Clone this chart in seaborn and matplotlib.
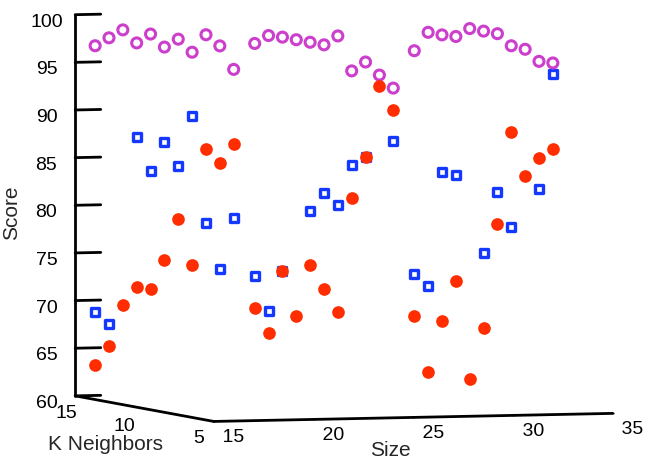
import numpy as np
import pandas as pd
import matplotlib
matplotlib.use("Agg")
import matplotlib.pyplot as plt
from matplotlib.ticker import FuncFormatter
import seaborn as sns

# K values swept inside each group, and the three sizes
k_values = [15, 14, 13, 12, 11, 10, 9, 8, 7, 6, 5]
sizes = [16, 24, 32]

# magenta open circles (one list per size, K from 15 down to 5)
score_circles = [
    [96.7, 97.8, 98.9, 97.8, 99.0, 97.9, 99.0, 97.9, 100.0, 99.1, 96.9],
    [96.6, 97.7, 97.8, 97.8, 97.8, 97.8, 99.0, 95.6, 96.8, 95.7, 94.6],
    [95.5, 97.7, 97.7, 97.8, 98.9, 98.9, 98.9, 97.9, 97.8, 96.8, 96.9],
]
# blue open squares (nan = hidden behind a red dot)
score_squares = [
    [68.8, 67.8, np.nan, 87.9, 84.6, 87.9, 85.7, 91.2, 80.2, 75.7, 81.3],
    [72.2, 68.8, 73.3, np.nan, 80.1, 82.3, 81.3, 85.7, 86.8, np.nan, 89.0],
    [72.1, 71.1, 83.3, 83.3, np.nan, 75.6, 82.3, 78.9, np.nan, 83.4, 95.7],
]
# red filled dots
score_dots = [
    [63.2, 65.5, 70.0, 72.2, 72.2, 75.6, 80.1, 75.6, 88.0, 86.8, 89.1],
    [68.8, 66.5, 73.3, 68.8, 74.4, 72.2, 70.0, 82.3, 86.8, 94.6, 92.3],
    [67.7, 62.1, 67.7, 72.1, 62.1, 67.7, 78.9, 88.9, 84.5, 86.7, 87.9],
]


def a_tabla(scores, nombre):
    filas = []
    for size, lista in zip(sizes, scores):
        for k, s in zip(k_values, lista):
            filas.append({"serie": nombre, "Size": size, "K": k, "Score": s})
    return pd.DataFrame(filas)


df = pd.concat([
    a_tabla(score_squares, "squares"),
    a_tabla(score_circles, "circles"),
    a_tabla(score_dots, "dots"),
]).dropna()

sns.set_theme(style="white")
plt.rcParams["font.family"] = ["Liberation Sans", "DejaVu Sans"]

fig = plt.figure(figsize=(6.45, 4.62), dpi=100)
# big axes so the 3D box is not clipped (the 3D box is fit into a square)
lado = 1.511
ax = fig.add_axes([0.5186 - lado / 2, 0.5163 - lado / 2, lado, lado],
                  projection="3d", proj_type="ortho", computed_zorder=False)
ax.view_init(elev=3.5, azim=-108.3)
ax.set_box_aspect((419, 440, 380.8))

estilos = {
    "squares": dict(marker="s", s=33, facecolors="none", edgecolors="#1438FF", linewidths=2.4),
    "circles": dict(marker="o", s=52, facecolors="none", edgecolors="#CC3FCC", linewidths=2.2),
    "dots": dict(marker="o", s=83, c="#FF2D00", linewidths=0),
}
for nombre, grupo in df.groupby("serie", sort=False):
    ax.scatter(grupo["Size"], grupo["K"], grupo["Score"], depthshade=False, **estilos[nombre])

ax.set_xlim(15, 35, view_margin=0)
ax.set_ylim(5, 15, view_margin=0)
ax.set_zlim(60, 100, view_margin=0)
ax.set_xticks([15, 20, 25, 30, 35])
ax.set_yticks([5, 10, 15])
ax.set_zticks(np.arange(60, 101, 5))
# size labels sit a little to the right of their ticks
ax.xaxis.set_major_formatter(FuncFormatter(lambda v, p: "\u2004" + f"{v:g}"))

ax.grid(False)
for eje in (ax.xaxis, ax.yaxis, ax.zaxis):
    eje.set_pane_color((1, 1, 1, 0))
    eje.pane.set_edgecolor((1, 1, 1, 0))
    eje.line.set_color("black")
    eje.line.set_linewidth(2)
ax.tick_params(labelsize=14, colors="black")
ax.tick_params(axis="x", pad=-3, bottom=True)
ax.tick_params(axis="y", pad=-2)
ax.tick_params(axis="z", pad=6, bottom=True, left=True)
ax.zaxis._axinfo["tick"].update(inward_factor=0.0, outward_factor=0.8, linewidth={True: 2.0, False: 1.0})
ax.yaxis._axinfo["tick"].update(inward_factor=0.0, outward_factor=0.0)
ax.xaxis._axinfo["tick"].update(inward_factor=0.1, outward_factor=0.0, linewidth={True: 1.2, False: 1.0})
for lbl in ax.get_xticklabels():
    lbl.set_horizontalalignment("left")
for lbl, k in zip(ax.get_yticklabels(), [5, 10, 15]):
    if k == 15:
        lbl.set_verticalalignment("top")
    else:
        lbl.set_horizontalalignment("right")

# axis titles
fig.text(12 / 645, 1 - 213 / 462, "Score", fontsize=15, rotation=90, ha="center", va="center")
fig.text(105 / 645, 1 - 445 / 462, "K Neighbors", fontsize=15, ha="center", va="center")
fig.text(390 / 645, 1 - 451 / 462, "Size", fontsize=15, ha="center", va="center")

plt.savefig("out.png", dpi=100)
